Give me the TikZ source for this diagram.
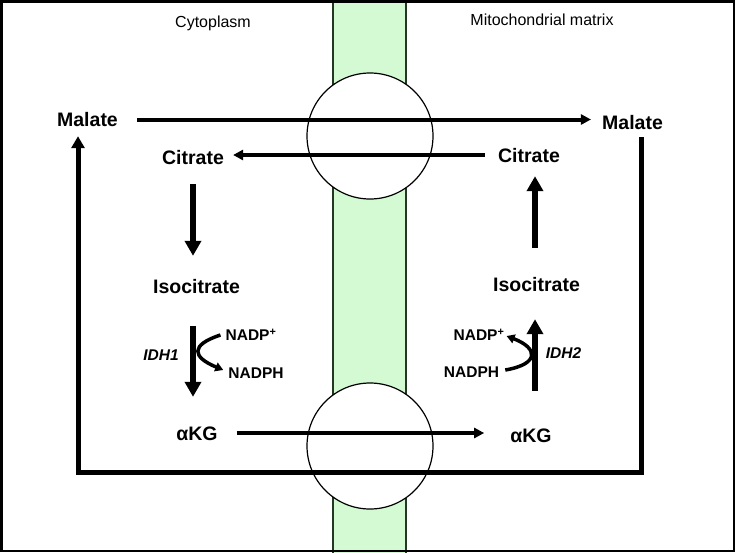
\documentclass[tikz,border=0pt]{standalone}
\usepackage{fontspec}
\setmainfont{Liberation Sans}
\usetikzlibrary{arrows.meta}
\definecolor{memb}{RGB}{212,250,212}
\definecolor{membline}{RGB}{35,55,35}
\begin{document}
\begin{tikzpicture}[x=1pt,y=-1pt,
  met/.style={font=\fontsize{19.5}{22}\selectfont\bfseries, inner sep=0pt, text height=14pt, text depth=0pt},
  cof/.style={font=\fontsize{15.5}{18}\selectfont\bfseries, inner sep=0pt, text height=11pt, text depth=0pt},
  enz/.style={font=\fontsize{15.5}{18}\selectfont\bfseries\itshape, inner sep=0pt, text height=11pt, text depth=0pt},
  region/.style={font=\fontsize{16}{19}\selectfont, inner sep=0pt},
  harrow/.style={line width=4pt, -{Triangle[length=10pt,width=10pt]}},
  varrow/.style={line width=5.5pt, -{Triangle[length=15pt,width=16pt]}},
  cofarrow/.style={line width=3.5pt, -{Triangle[length=8pt,width=9pt]}},
  transporter/.style={circle, draw, line width=1.2pt, fill=white, minimum size=126pt, inner sep=0pt}
]
\useasboundingbox (0,0) rectangle (735,552);
% membrane
\filldraw[fill=memb, draw=membline, line width=1.3pt] (333,-2) rectangle (406,554);
% frame
\draw[line width=2.5pt] (1.25,1.25) rectangle (733.75,550.75);
% transporters
\node[transporter] (tr1) at (370,136) {};
\node[transporter] (tr2) at (370,446) {};
% region labels
\node[region] (cyto) at (213,23) {Cytoplasm};
\node[region] (mito) at (542,20) {Mitochondrial matrix};
% metabolites
\node[met] (malL) at (87.5,119.5) {Malate};
\node[met] (malR) at (632.5,122) {Malate};
\node[met] (citL) at (193,157) {Citrate};
\node[met] (citR) at (529,155) {Citrate};
\node[met] (isoL) at (196.5,286) {Isocitrate};
\node[met] (isoR) at (536.5,284) {Isocitrate};
\node[met] (akgL) at (197,433) {αKG};
\node[met] (akgR) at (531,435) {αKG};
% cofactors and enzymes
\node[cof] (nadpL) at (251,335) {NADP\textsuperscript{+}};
\node[cof] (nadphL) at (256,373) {NADPH};
\node[enz] (idh1) at (161,355) {IDH1};
\node[cof] (nadpR) at (479,335) {NADP\textsuperscript{+}};
\node[cof] (nadphR) at (471.5,372) {NADPH};
\node[enz] (idh2) at (563.5,353) {IDH2};
% axes for vertical arrows
\coordinate (axL) at (193,0);
\coordinate (axR) at (535,0);
\coordinate (loopR) at (641,472);
\coordinate (loopL) at (78,472);
% horizontal transport arrows
\draw[harrow, shorten <=19pt, shorten >=11pt] (malL.east) -- (malL.east -| malR.west);
\draw[harrow, shorten <=13pt, shorten >=9pt] (citR.west) -- (citR.west -| citL.east);
\draw[harrow, shorten <=19pt, shorten >=26pt] (akgL.east) -- (akgL.east -| akgR.west);
% vertical conversions
\draw[varrow, shorten <=20pt, shorten >=23pt] (citL.south -| axL) -- (isoL.north -| axL);
\draw[varrow, shorten <=33pt, shorten >=29pt] (isoL.south -| axL) -- (akgL.north -| axL);
\draw[varrow, shorten <=29pt, shorten >=14pt] (isoR.north -| axR) -- (citR.south -| axR);
\draw[varrow, shorten <=37pt, shorten >=28pt] (akgR.north -| axR) -- (isoR.south -| axR);
% malate return loop
\draw[line width=5pt, line join=miter, -{Triangle[length=12pt,width=13pt]}, shorten <=8pt, shorten >=9.5pt]
  (malR.south -| loopR) -- (loopR) -- (loopL) -- (malL.south -| loopL);
% cofactor curves
\draw[cofarrow] ([xshift=-5pt]nadpL.west) .. controls (190,345) and (192,357) .. ([xshift=-5pt,yshift=3pt]nadphL.west);
\draw[cofarrow] ([xshift=6pt,yshift=2pt]nadphR.east) .. controls (540,364) and (538,348) .. ([xshift=2pt,yshift=-1pt]nadpR.east);
\end{tikzpicture}
\end{document}
